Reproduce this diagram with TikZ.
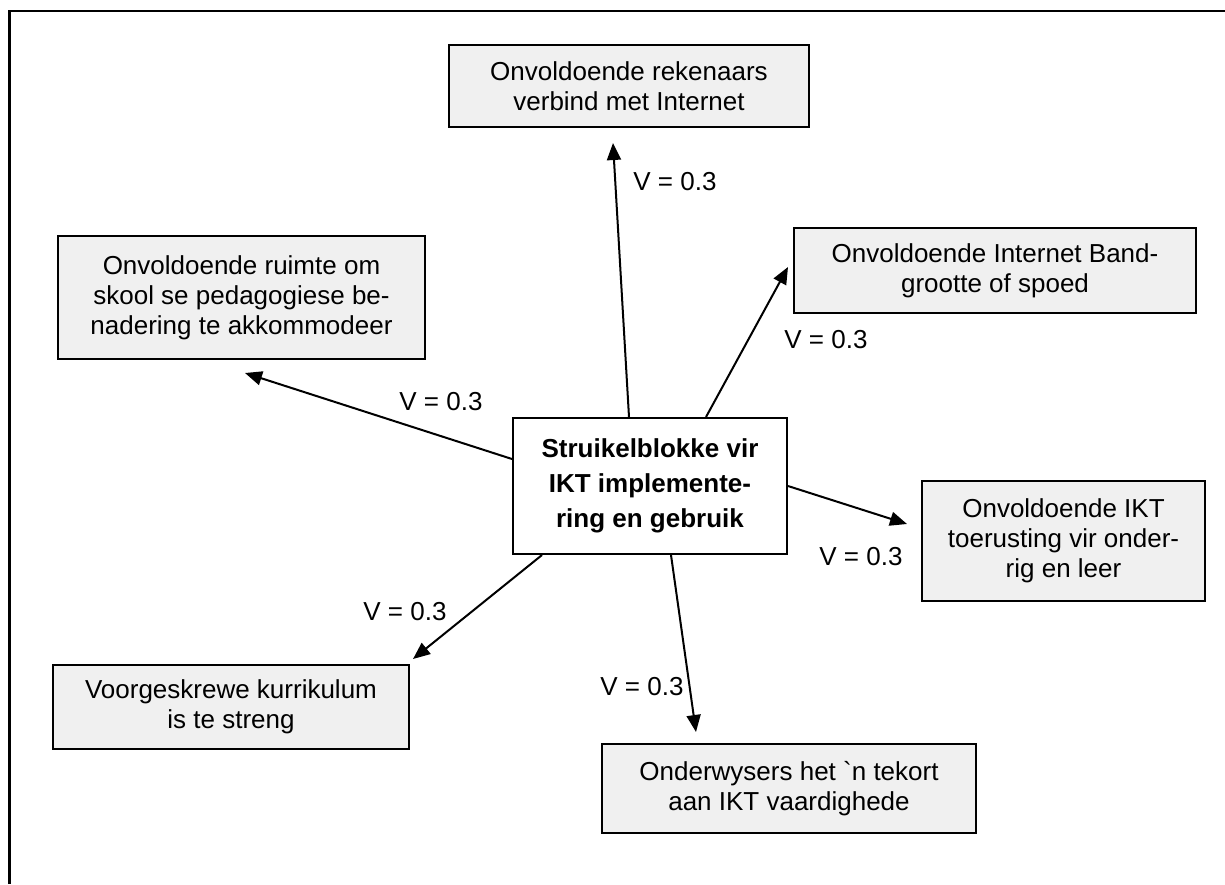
\documentclass[tikz,border=0pt]{standalone}
\usepackage{fontspec}
\setmainfont{Liberation Sans}
\newfontfamily\plainsans{Liberation Sans}
\usetikzlibrary{arrows.meta}
\definecolor{boxgray}{HTML}{F0F0F0}
\begin{document}
\begin{tikzpicture}[x=0.5pt,y=-0.5pt,
  box/.style={draw, line width=0.8pt, fill=boxgray, inner sep=0pt, align=center,
    font=\fontsize{13}{15}\selectfont},
  centre/.style={draw, line width=1pt, fill=white, inner sep=0pt, align=center,
    font=\fontsize{13}{17.5}\selectfont\bfseries},
  arr/.style={line width=1pt, -{Triangle[length=8.5pt,width=7pt]}},
  lab/.style={inner sep=0pt, font=\fontsize{13}{15}\selectfont},
  frame/.style={line width=1.2pt}]
\useasboundingbox (0,0) rectangle (1225,884);
% outer frame
\coordinate (fTL) at (9.5,11);
\coordinate (fTR) at (1225,11);
\coordinate (fBL) at (9.5,884);
\draw[frame] (fBL) -- (fTL) -- (fTR);
% nodes
\node[centre, minimum width=137pt, minimum height=68pt] (c) at (650,486)
  {Struikelblokke vir\\IKT implemente-\\ring en gebruik};
\node[box, minimum width=180pt, minimum height=41pt] (top) at (629,86)
  {Onvoldoende rekenaars\\verbind met Internet};
\node[box, minimum width=201pt, minimum height=42.5pt] (band) at (995,270.5)
  {Onvoldoende Internet Band-\\grootte of spoed};
\node[box, minimum width=183.5pt, minimum height=61.5pt] (left) at (241.5,297.5)
  {Onvoldoende ruimte om\\skool se pedagogiese be-\\nadering te akkommodeer};
\node[box, minimum width=141.5pt, minimum height=60pt] (ikt) at (1063.5,541)
  {Onvoldoende IKT\\toerusting vir onder-\\rig en leer};
\node[box, minimum width=178pt, minimum height=42pt] (kurr) at (231,707)
  {Voorgeskrewe kurrikulum\\is te streng};
\node[box, minimum width=187pt, minimum height=44.5pt] (ond) at (789,788.5)
  {Onderwysers het {\plainsans\symbol{96}}n tekort\\aan IKT vaardighede};
% arrow tips (free ends)
\coordinate (tTop) at (613,143);
\coordinate (tBand) at (788,267);
\coordinate (tLeft) at (245,373);
\coordinate (tIkt) at (907,524);
\coordinate (tKurr) at (413,659);
\coordinate (tOnd) at (696,732);
% arrows
\draw[arr] ([xshift=58.5pt]c.north west) -- (tTop);
\draw[arr] ([xshift=97pt]c.north west) -- (tBand);
\draw[arr] ([yshift=-21pt]c.north west) -- (tLeft);
\draw[arr] (c.east) -- (tIkt);
\draw[arr] ([xshift=15pt]c.south west) -- (tKurr);
\draw[arr] ([xshift=79.5pt]c.south west) -- (tOnd);
% labels
\node[lab] (lTop) at (675,182) {V = 0.3};
\node[lab] (lBand) at (826,340) {V = 0.3};
\node[lab] (lLeft) at (441,402) {V = 0.3};
\node[lab] (lIkt) at (861,557) {V = 0.3};
\node[lab] (lKurr) at (405,612) {V = 0.3};
\node[lab] (lOnd) at (642,687) {V = 0.3};
\end{tikzpicture}
\end{document}
